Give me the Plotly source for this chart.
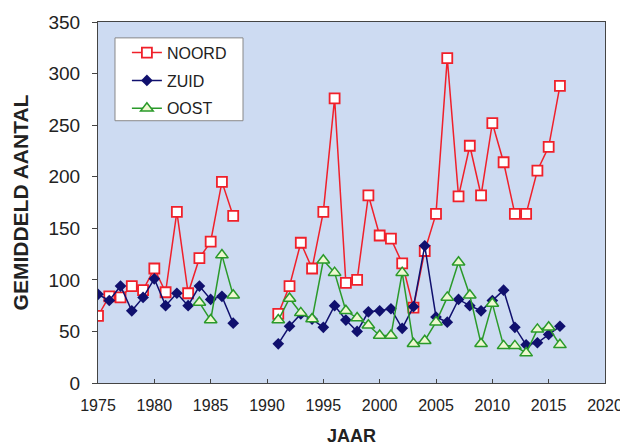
import plotly.graph_objects as go

years = list(range(1975, 2017))

noord = [65, 84, 83, 94, 90, 111, 88, 166, 87, 121, 137, 195, 162,
         None, None, None,
         67, 94, 136, 111, 166, 276, 97, 100, 182, 143, 140, 116, 73,
         128, 164, 315, 181, 230, 182, 252, 214, 164, 164, 206, 229, 288]
zuid = [86, 80, 94, 70, 83, 101, 75, 87, 75, 94, 81, 84, 58,
        None, None, None,
        38, 55, 67, 62, 54, 75, 61, 50, 69, 70, 72, 53, 74,
        133, 64, 59, 81, 75, 70, 80, 90, 54, 37, 39, 47, 55]
oost = [None] * 9 + [78, 61, 124, 85,
        None, None, None,
        61, 82, 68, 62, 119, 107, 70, 63, 56, 46, 46, 107, 38,
        41, 59, 83, 117, 85, 38, 77, 36, 36, 29, 52, 54, 37]

x_ticks = [1975, 1980, 1985, 1990, 1995, 2000, 2005, 2010, 2015, 2020]
y_ticks = [0, 50, 100, 150, 200, 250, 300, 350]

fig = go.Figure()
fig.add_trace(go.Scatter(
    x=years, y=noord, name="NOORD", mode="lines+markers", legendgroup="a",
    line=dict(color="#f0202a", width=1.5),
    marker=dict(symbol="square", size=10, color="white",
                line=dict(color="#f0202a", width=1.8))))
fig.add_trace(go.Scatter(
    x=years, y=zuid, name="ZUID", mode="lines+markers", legendgroup="b",
    line=dict(color="#10106e", width=1.5),
    marker=dict(symbol="diamond", size=9, color="#10106e")))
fig.add_trace(go.Scatter(
    x=years, y=oost, name="OOST", mode="lines+markers", legendgroup="c",
    line=dict(color="#2a9a2a", width=1.5),
    marker=dict(symbol="triangle-up", size=11, color="#eef8d0",
                line=dict(color="#2a9a2a", width=1.5))))

fam = "Liberation Sans, Arial, sans-serif"
fig.update_layout(
    width=620, height=438,
    margin=dict(l=90, r=23, t=14, b=63),
    paper_bgcolor="white",
    plot_bgcolor="#cddbf2",
    font=dict(family=fam, size=12, color="#222222"),
    showlegend=True,
    legend=dict(x=0.057, y=0.962, xanchor="left", yanchor="top",
                bgcolor="rgba(0,0,0,0)", borderwidth=0,
                font=dict(size=16, color="#222222"),
                traceorder="grouped", tracegroupgap=4),
    shapes=[dict(type="rect", xref="paper", yref="paper",
                 x0=0.0335, x1=0.286, y0=0.7265, y1=0.956,
                 fillcolor="white", line=dict(color="#888888", width=1),
                 layer="above")],
    xaxis=dict(range=[1975, 2020], tickvals=x_ticks, showgrid=False,
               zeroline=False, showline=True, linecolor="#444444", linewidth=1,
               mirror=True, ticks="inside", ticklen=4, tickcolor="#444444",
               ticklabelstandoff=8, automargin=False,
               tickfont=dict(family=fam, size=16, color="#222222"),
               title=dict(text="<b>JAAR</b>", font=dict(size=18, color="#222222"), standoff=16)),
    yaxis=dict(range=[0, 350], tickvals=y_ticks, showgrid=False,
               zeroline=False, showline=True, linecolor="#444444", linewidth=1,
               mirror=True, ticks="outside", ticklen=5, tickcolor="#444444",
               ticklabelstandoff=8, automargin=False,
               tickfont=dict(family=fam, size=19, color="#222222"),
               title=dict(text="<b>GEMIDDELD AANTAL</b>", font=dict(size=21, color="#222222"), standoff=14)),
)

fig.write_html("out.html")
